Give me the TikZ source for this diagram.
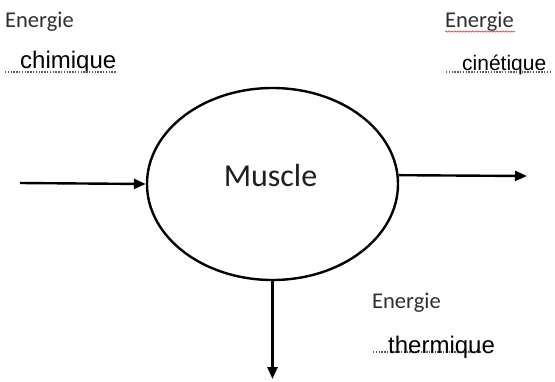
\documentclass[tikz,border=0pt]{standalone}
\usepackage{fontspec}
\setmainfont{Liberation Sans}
\newfontfamily\calib{Carlito}
\usetikzlibrary{arrows.meta,shapes.geometric,decorations.pathmorphing}

\begin{document}
\begin{tikzpicture}[x=1pt,y=-1pt,
  flow/.style={line width=2.4pt,-{Triangle[length=12pt,width=10pt]}},
  kind/.style={anchor=base west,inner sep=0pt,font=\calib\fontsize{22.5}{24}\selectfont,text=black!82},
  form/.style={anchor=base west,inner sep=0pt},
  blank/.style={line width=1.8pt,gray!70!black,dash pattern=on 1.4pt off 1.4pt}]
 \useasboundingbox[fill=white] (0,0) rectangle (555,381);
 \node[ellipse,draw,line width=2.4pt,minimum width=251pt,minimum height=192pt,inner sep=0pt] (mus) at (272.5,184) {};
 \node[font=\calib\fontsize{32}{34}\selectfont,text=black!88] (mustxt) at ([xshift=-2pt,yshift=8pt]mus.center) {Muscle};
 % entree
 \node[kind] (e1) at (5,27) {Energie};
 \node[form,font=\fontsize{24}{26}\selectfont] (chim) at (20,68) {chimique};
 \draw[blank] (5,72)--(117,72);
 \coordinate (src) at (20,183);
 \draw[flow] (src)--(mus.west);
 % sortie
 \node[kind] (e2) at (445,27) {Energie};
 \draw[red!70,line width=.8pt,decorate,decoration={snake,amplitude=.6pt,segment length=3pt}] (445,31.5)--(515,31.5);
 \node[form,font=\fontsize{21}{23}\selectfont] (cin) at (462,70) {cinétique};
 \draw[blank] (446,72)--(552,72);
 \coordinate (dst) at (527,176);
 \draw[flow] (mus.4)--(dst);
 % chaleur
 \node[kind] (e3) at (372,308) {Energie};
 \draw[blank] (373,352)--(482,352);
 \node[form,font=\fontsize{24}{26}\selectfont] (therm) at (388,353) {thermique};
 \coordinate (heat) at (mus.south |- 0,379);
 \draw[flow] (mus.south)--(heat);
\end{tikzpicture}
\end{document}
